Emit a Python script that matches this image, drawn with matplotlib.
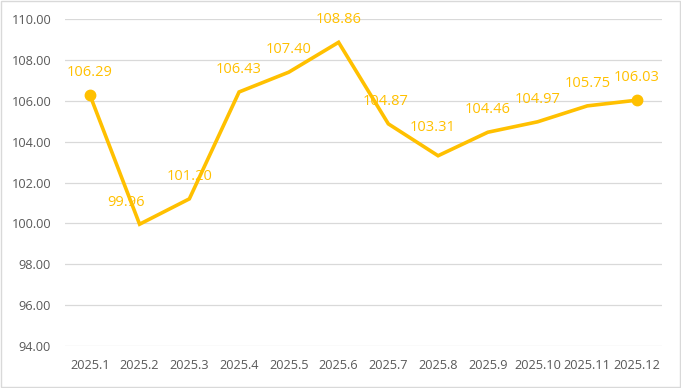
import matplotlib
matplotlib.use("Agg")
import matplotlib.pyplot as plt
from matplotlib.patches import Rectangle

categories = ["2025.1", "2025.2", "2025.3", "2025.4", "2025.5", "2025.6",
              "2025.7", "2025.8", "2025.9", "2025.10", "2025.11", "2025.12"]
values = [106.29, 99.96, 101.20, 106.43, 107.40, 108.86,
          104.87, 103.31, 104.46, 104.97, 105.75, 106.03]
y_ticks = [94, 96, 98, 100, 102, 104, 106, 108, 110]

LINE = "#FFC000"
TXT = "#595959"
plt.rcParams['font.family'] = ['Open Sans', 'DejaVu Sans']

fig = plt.figure(figsize=(6.81, 3.88), dpi=100)
fig.patches.append(Rectangle((0.002, 0.003), 0.996, 0.994, transform=fig.transFigure,
                             fill=False, edgecolor="#D9D9D9", linewidth=1))
ax = fig.add_axes([0.0954, 0.1082, 0.8766, 0.8428])

x = list(range(len(categories)))
ax.plot(x, values, color=LINE, linewidth=2.6, solid_joinstyle="miter", zorder=3)
ax.plot([x[0], x[-1]], [values[0], values[-1]], linestyle="none", marker="o",
        markersize=7.5, color=LINE, zorder=4)

label_off = {1: (-10, 10), 7: (-4, 15), 6: (-2, 11)}
for i, v in enumerate(values):
    ax.annotate(f"{v:.2f}", (i, v), xytext=label_off.get(i, (0, 11)),
                textcoords="offset points", ha="center", va="bottom",
                color=LINE, fontsize=10.5)

ax.set_xlim(-0.5, len(categories) - 0.5)
ax.set_ylim(94, 110)
ax.set_yticks(y_ticks)
ax.set_yticklabels([f"{t:.2f}" for t in y_ticks])
ax.set_xticks(x)
ax.set_xticklabels(categories)
ax.grid(axis="y", color="#D9D9D9", linewidth=0.9)
ax.set_axisbelow(True)
for s in ax.spines.values():
    s.set_visible(False)
ax.tick_params(axis="both", length=0, colors=TXT, labelsize=9.2)
ax.tick_params(axis="y", pad=10)
ax.tick_params(axis="x", pad=9)

fig.savefig("out.png", dpi=100)
